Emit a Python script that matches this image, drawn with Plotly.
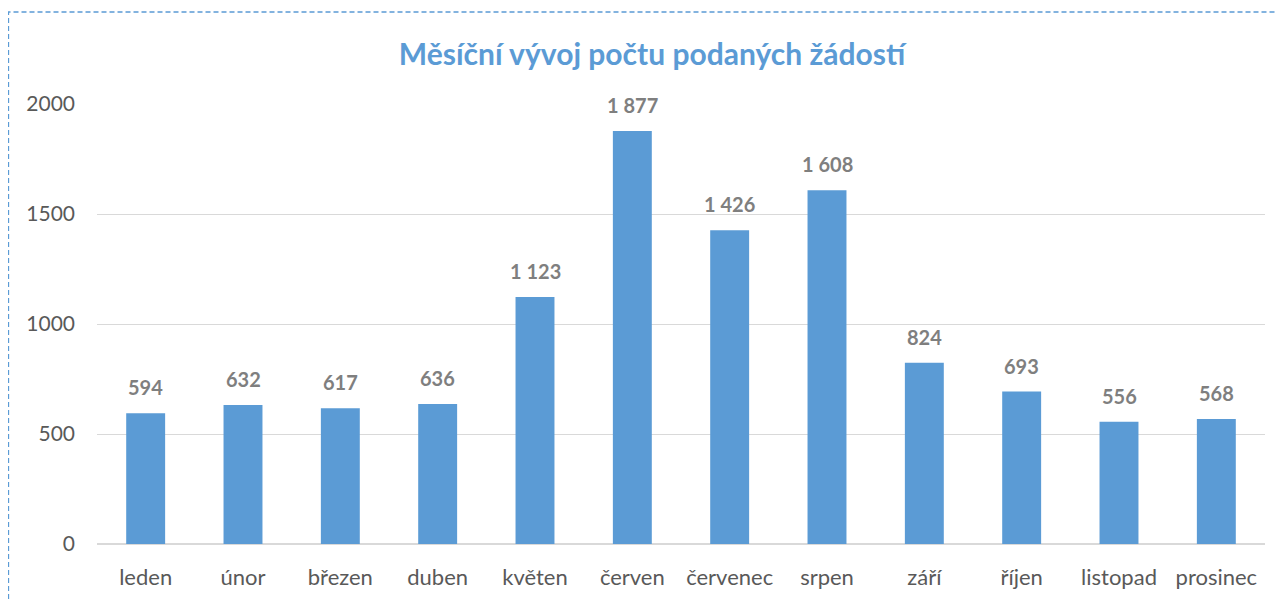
import plotly.graph_objects as go

months = ["leden", "únor", "březen", "duben", "květen", "červen", "červenec",
          "srpen", "září", "říjen", "listopad", "prosinec"]
values = [594, 632, 617, 636, 1123, 1877, 1426, 1608, 824, 693, 556, 568]
y_ticks = [0, 500, 1000, 1500, 2000]

labels = [f"{v:,}".replace(",", " ") for v in values]

OFF = 8  # page body margin
W, H = 1285 - OFF, 601 - OFF
L, R, T, B = 97 - OFF, 20, 104 - OFF, 57
pw, ph = W - L - R, H - T - B
FONT = "Lato, Open Sans, sans-serif"

fig = go.Figure()
fig.add_trace(go.Bar(x=months, y=values, marker_color="#5B9BD5",
                     marker_line_width=0, hoverinfo="x+y"))

for m, v, t in zip(months, values, labels):
    fig.add_annotation(x=m, y=v, text=f"<b>{t}</b>", showarrow=False,
                       yanchor="bottom", yshift=12,
                       font=dict(family=FONT, size=20, color="#7F7F7F"))

# dashed border of the chart area
fig.add_shape(type="rect", xref="paper", yref="paper",
              x0=(0.5 - L) / pw, x1=(W + 20 - L) / pw,
              y0=-(B + 20) / ph, y1=(H - 4 - B) / ph,
              line=dict(color="#5B9BD5", width=1.3, dash="5px,3px"), layer="below")

fig.update_layout(
    width=W, height=H,
    margin=dict(l=L, r=R, t=T, b=B),
    paper_bgcolor="white", plot_bgcolor="white",
    bargap=0.6,
    showlegend=False,
    title=dict(text="<b>Měsíční vývoj počtu podaných žádostí</b>",
               x=(652 - OFF) / W, xanchor="center", y=1 - (54 - OFF) / H, yanchor="middle",
               font=dict(family=FONT, size=30, color="#5B9BD5")),
    font=dict(family=FONT, size=21, color="#595959"),
)
fig.update_xaxes(showgrid=False, showline=False, ticks="", ticklabelstandoff=18,
                 tickfont=dict(size=22, color="#595959"))
fig.update_yaxes(range=[0, 2000], tickvals=y_ticks, showgrid=True, gridcolor="#D9D9D9",
                 gridwidth=1, zeroline=True, zerolinecolor="#D9D9D9", zerolinewidth=1.5,
                 showline=False, ticks="", ticklabelstandoff=21,
                 tickfont=dict(size=21, color="#595959"))

fig.write_html("out.html")
